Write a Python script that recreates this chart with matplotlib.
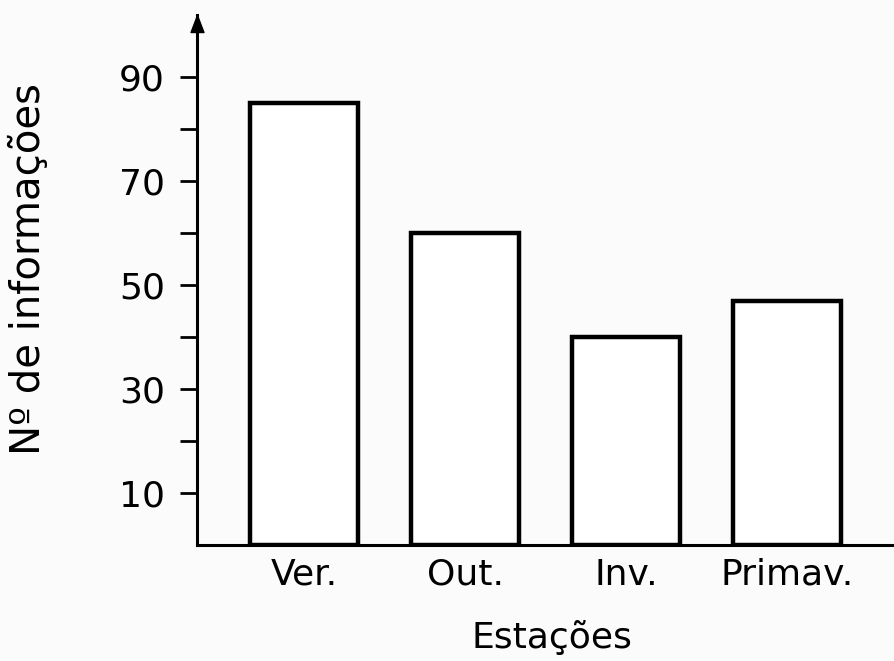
import matplotlib
matplotlib.use("Agg")
import matplotlib.pyplot as plt
from matplotlib.ticker import FixedLocator

categories = ["Ver.", "Out.", "Inv.", "Primav."]
values = [85, 60, 40, 47]
major_ticks = [10, 30, 50, 70, 90]
minor_ticks = [20, 40, 60, 80]

plt.rcParams['font.family'] = ['DejaVu Sans']
bg = "#fbfbfb"
W, H = 895, 661
fig = plt.figure(figsize=(W/100, H/100), dpi=100, facecolor=bg)
ax_bottom_px, ax_top_px = 545.3, 15
ax = fig.add_axes([197/W, 1 - ax_bottom_px/H, 1 - 197/W, (ax_bottom_px - ax_top_px)/H])
ax.set_facecolor(bg)

x = list(range(len(categories)))
ax.bar(x, values, width=0.67, facecolor="white", edgecolor="black", linewidth=3.2, zorder=2)

ax.set_xlim(-0.665, 3.67)
ax.set_ylim(0, 101.9)
ax.spines['top'].set_visible(False)
ax.spines['right'].set_visible(False)
ax.spines['left'].set_linewidth(2.2)
ax.spines['bottom'].set_linewidth(2.2)

ax.yaxis.set_major_locator(FixedLocator(major_ticks))
ax.yaxis.set_minor_locator(FixedLocator(minor_ticks))
ax.set_yticklabels([str(t) for t in major_ticks])
ax.tick_params(axis='y', which='both', length=12, width=2.0, direction='out', pad=11, labelsize=26)
ax.set_xticks(x)
ax.set_xticklabels(categories)
ax.tick_params(axis='x', length=0, pad=9, labelsize=26)

arrow_marker = [(0, 0), (-0.38, -1), (0.38, -1), (0, 0)]
ax.plot(0, 1.0, marker=arrow_marker, markersize=24.5, color='black',
        transform=ax.transAxes, clip_on=False, zorder=5)

fig.text(552/W, 1 - 648/H, "Estações", ha='center', va='baseline', fontsize=26)
fig.text(29/W, 1 - 269/H, "Nº de informações", rotation=90, ha='center', va='center', fontsize=29)

fig.savefig("out.png", dpi=100, facecolor=bg)
